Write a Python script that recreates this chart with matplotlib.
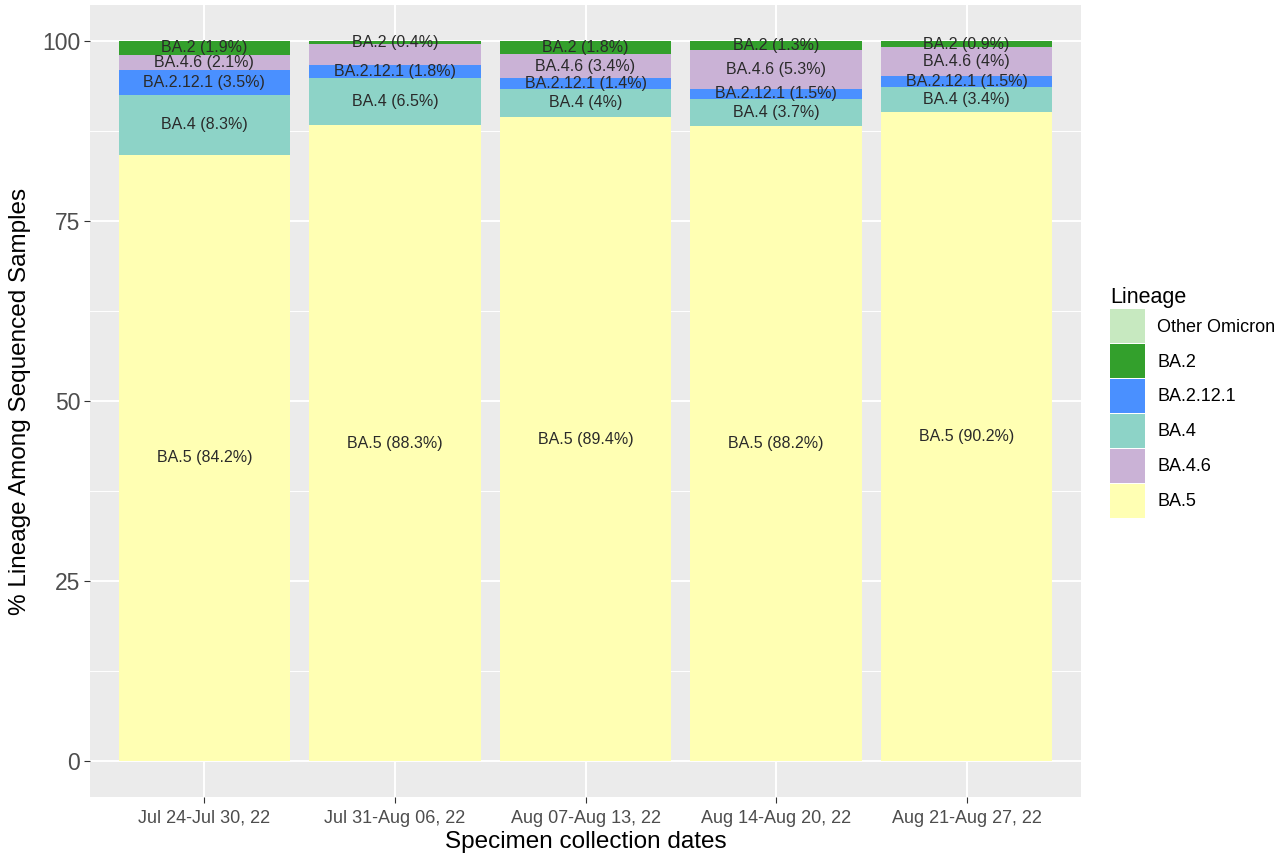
import numpy as np
import matplotlib.pyplot as plt
from matplotlib.patches import Patch

plt.rcParams['font.family'] = ['Liberation Sans', 'DejaVu Sans']

# weeks on the x axis
weeks = ["Jul 24-Jul 30, 22", "Jul 31-Aug 06, 22", "Aug 07-Aug 13, 22",
         "Aug 14-Aug 20, 22", "Aug 21-Aug 27, 22"]

# stacking order, bottom to top
lineages = ["BA.5", "BA.4", "BA.2.12.1", "BA.4.6", "BA.2", "Other Omicron"]
# order in the legend
legend_order = ["Other Omicron", "BA.2", "BA.2.12.1", "BA.4", "BA.4.6", "BA.5"]

# percentages per lineage, one value per week
ba5 = [84.2, 88.3, 89.4, 88.2, 90.2]
ba4 = [8.3, 6.5, 4.0, 3.7, 3.4]
ba2121 = [3.5, 1.8, 1.4, 1.5, 1.5]
ba46 = [2.1, 3.0, 3.4, 5.3, 4.0]
ba2 = [1.9, 0.4, 1.8, 1.3, 0.9]
other = [0.0, 0.0, 0.0, 0.0, 0.0]

# segments drawn without a label in the original
unlabeled = {(1, "BA.4.6")}

colors = {
    "Other Omicron": "#c7e9c0",
    "BA.2": "#33a02c",
    "BA.2.12.1": "#4a90ff",
    "BA.4": "#8dd3c7",
    "BA.4.6": "#cab2d6",
    "BA.5": "#ffffb3",
}

values = {"BA.5": ba5, "BA.4": ba4, "BA.2.12.1": ba2121,
          "BA.4.6": ba46, "BA.2": ba2, "Other Omicron": other}

W, H = 1281, 855
fig = plt.figure(figsize=(W / 100, H / 100), dpi=100)
ax = fig.add_axes([90 / W, 58 / H, 991 / W, 792 / H])
ax.set_facecolor("#ebebeb")

x = np.arange(len(weeks))
bottom = np.zeros(len(weeks))
for lin in lineages:
    v = np.array(values[lin])
    ax.bar(x, v, bottom=bottom, width=0.9, color=colors[lin], zorder=2)
    for i in range(len(weeks)):
        if v[i] <= 0 or (i, lin) in unlabeled:
            continue
        txt = f"{lin} ({v[i]:g}%)"
        ax.text(x[i], bottom[i] + v[i] / 2, txt, ha="center", va="center",
                fontsize=11.5, color="#2a2a2a", zorder=3)
    bottom += v

ax.set_xlim(-0.6, len(weeks) - 0.4)
ax.set_ylim(-5, 105)
ax.set_yticks([0, 25, 50, 75, 100])
ax.set_yticks([12.5, 37.5, 62.5, 87.5], minor=True)
ax.set_xticks(x)
ax.set_xticklabels(weeks)

ax.grid(True, which="major", color="white", lw=1.4, zorder=0)
ax.grid(True, which="minor", axis="y", color="white", lw=0.7, zorder=0)
ax.set_axisbelow(True)
for s in ax.spines.values():
    s.set_visible(False)

ax.tick_params(axis="y", which="major", labelsize=16.5, labelcolor="#4d4d4d",
               color="#333333", length=4, width=0.8, pad=3)
ax.tick_params(axis="x", which="major", labelsize=13, labelcolor="#4d4d4d",
               color="#333333", length=4, width=0.8, pad=5)
ax.tick_params(which="minor", length=0)

ax.set_xlabel("Specimen collection dates", fontsize=17.5, color="black", labelpad=3)
ax.set_ylabel("% Lineage Among Sequenced Samples", fontsize=17.5, color="black", labelpad=8)

handles = [Patch(facecolor=colors[l], edgecolor="none") for l in legend_order]
leg = fig.legend(handles, legend_order, title="Lineage", loc="upper left",
                 bbox_to_anchor=(1103 / W, 1 - 280 / H), frameon=False,
                 fontsize=13, title_fontsize=15.5, alignment="left",
                 handlelength=1.9, handleheight=2.52, labelspacing=0.05,
                 handletextpad=0.7, borderaxespad=0)

fig.savefig("out.png", dpi=100)
